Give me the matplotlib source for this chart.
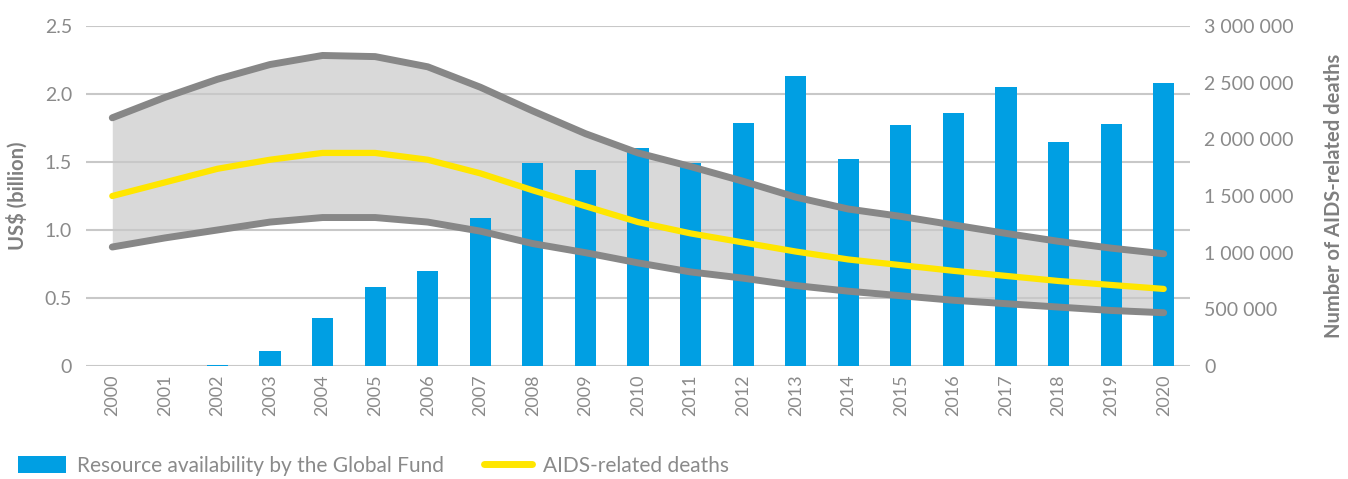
import matplotlib
matplotlib.use("Agg")
import matplotlib.pyplot as plt
from matplotlib.patches import Patch
from matplotlib.lines import Line2D
import numpy as np

plt.rcParams['font.family'] = ['Lato', 'DejaVu Sans']

years = [str(y) for y in range(2000, 2021)]
funding = [0.0, 0.0, 0.005, 0.11, 0.355, 0.58, 0.70, 1.086, 1.49, 1.44, 1.605,
           1.49, 1.79, 2.13, 1.52, 1.77, 1.86, 2.05, 1.65, 1.78, 2.08]
deaths_mid = [1.50, 1.62, 1.74, 1.82, 1.88, 1.88, 1.82, 1.70, 1.55, 1.41, 1.27,
              1.17, 1.09, 1.01, 0.94, 0.89, 0.84, 0.795, 0.75, 0.715, 0.68]
deaths_hi = [2.19, 2.37, 2.53, 2.66, 2.74, 2.73, 2.64, 2.46, 2.25, 2.05, 1.88,
             1.76, 1.63, 1.49, 1.385, 1.32, 1.245, 1.17, 1.10, 1.04, 0.99]
deaths_lo = [1.05, 1.13, 1.20, 1.27, 1.31, 1.31, 1.27, 1.19, 1.08, 1.00, 0.91,
             0.83, 0.775, 0.71, 0.66, 0.62, 0.58, 0.55, 0.52, 0.49, 0.47]
deaths_mid = [v * 1e6 for v in deaths_mid]
deaths_hi = [v * 1e6 for v in deaths_hi]
deaths_lo = [v * 1e6 for v in deaths_lo]

left_ticks = [0, 0.5, 1.0, 1.5, 2.0, 2.5]
left_labels = ['0', '0.5', '1.0', '1.5', '2.0', '2.5']
right_ticks = [0, 500000, 1000000, 1500000, 2000000, 2500000, 3000000]
right_labels = ['0', '500 000', '1 000 000', '1 500 000', '2 000 000', '2 500 000', '3 000 000']

BLUE = '#009fe3'
YELLOW = '#ffe600'
GREY = '#878787'
BAND = '#d9d9d9'
TXT = '#8a8a8a'
GRID = '#c8c8c8'

fig = plt.figure(figsize=(13.48, 4.79), dpi=100)
ax = fig.add_axes([86/1348, 1-366/479, (1190-86)/1348, (366-26)/479])
ax2 = ax.twinx()

x = np.arange(len(years))
ax.set_xlim(-0.5, len(years) - 0.5)
ax.set_ylim(0, 2.5)
ax2.set_ylim(0, 3000000)

ax.yaxis.grid(True, color=GRID, linewidth=1.5, zorder=0.5)
ax.set_axisbelow(True)

ax.fill_between(x, deaths_lo, deaths_hi, transform=ax2.transData,
                color=BAND, linewidth=0, zorder=0.3)
ax.bar(x, funding, width=0.4, color=BLUE, zorder=2)

ax2.plot(x, deaths_hi, color=GREY, lw=5, solid_capstyle='round', zorder=3)
ax2.plot(x, deaths_lo, color=GREY, lw=5, solid_capstyle='round', zorder=3)
ax2.plot(x, deaths_mid, color=YELLOW, lw=4.5, solid_capstyle='round', zorder=4)

for a in (ax, ax2):
    for s in a.spines.values():
        s.set_visible(False)

ax.set_xticks(x)
ax.set_xticklabels(years, rotation=90, fontsize=13, color=TXT)
ax.set_yticks(left_ticks)
ax.set_yticklabels(left_labels, fontsize=14, color=TXT)
ax2.set_yticks(right_ticks)
ax2.set_yticklabels(right_labels, fontsize=14, color=TXT)
ax.tick_params(axis='x', length=0, pad=6)
ax.tick_params(axis='y', length=0, pad=10)
ax2.tick_params(axis='y', length=0, pad=10)

ax.set_ylabel('US$ (billion)', fontsize=14.5, fontweight='bold', color='#7f7f7f', labelpad=12)
ax2.set_ylabel('Number of AIDS-related deaths', fontsize=14.5, fontweight='bold',
               color='#7f7f7f', labelpad=22)

handles = [Patch(facecolor=BLUE, edgecolor='none'),
           Line2D([0], [0], color=YELLOW, lw=5, solid_capstyle='round')]
fig.legend(handles, ['Resource availability by the Global Fund', 'AIDS-related deaths'],
           loc='center left', bbox_to_anchor=(0.007, 0.028), ncol=2, frameon=False,
           fontsize=15, labelcolor=TXT, handlelength=2.3, handleheight=0.9,
           handletextpad=0.55, columnspacing=1.9, borderaxespad=0)

fig.savefig('out.png', dpi=100)
